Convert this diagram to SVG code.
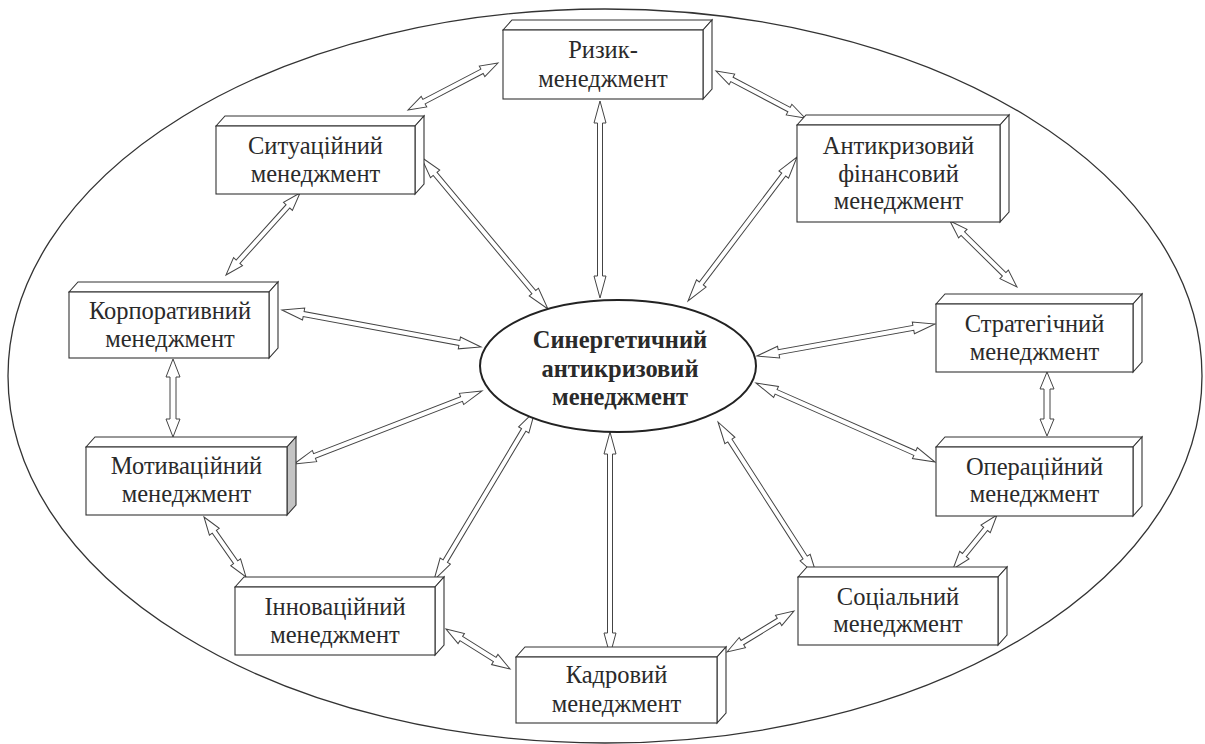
<svg xmlns="http://www.w3.org/2000/svg" width="1205" height="744" viewBox="0 0 1205 744">
<style>
.bg{fill:#fff}
.outer{fill:none;stroke:#333;stroke-width:1.3}
.arr polygon{fill:#fff;stroke:#444;stroke-width:1}
.box rect,.box polygon{fill:#fff;stroke:#333;stroke-width:1.1}
.box polygon.shade{fill:#c4c4c4}
.t{font-family:"Liberation Serif","Times New Roman",serif;font-size:24.5px;fill:#2a2a2a;text-anchor:middle}
.c{font-family:"Liberation Serif","Times New Roman",serif;font-size:24.5px;font-weight:bold;fill:#2a2a2a;text-anchor:middle}
.core{fill:#fff;stroke:#222;stroke-width:2}
</style>
<rect class="bg" x="0" y="0" width="1205" height="744"/>
<ellipse class="outer" cx="605" cy="376" rx="597" ry="367"/>
<g id="connectors" class="arr">
<!-- spokes -->
<polygon transform="translate(600,101) rotate(90)" points="0,0 22,-6 22,-2.5 175,-2.5 175,-6 197,0 175,6 175,2.5 22,2.5 22,6"/>
<polygon transform="translate(421,157) rotate(50.12)" points="0,0 22,-6 22,-2.5 176,-2.5 176,-6 198,0 176,6 176,2.5 22,2.5 22,6"/>
<polygon transform="translate(797,157) rotate(127.12)" points="0,0 22,-6 22,-2.5 158.6,-2.5 158.6,-6 180.6,0 158.6,6 158.6,2.5 22,2.5 22,6"/>
<polygon transform="translate(282,310) rotate(10.53)" points="0,0 22,-6 22,-2.5 180.4,-2.5 180.4,-6 202.4,0 180.4,6 180.4,2.5 22,2.5 22,6"/>
<polygon transform="translate(935,324) rotate(169.81)" points="0,0 22,-6 22,-2.5 158.9,-2.5 158.9,-6 180.9,0 158.9,6 158.9,2.5 22,2.5 22,6"/>
<polygon transform="translate(294,464) rotate(-21.22)" points="0,0 22,-6 22,-2.5 179.7,-2.5 179.7,-6 201.7,0 179.7,6 179.7,2.5 22,2.5 22,6"/>
<polygon transform="translate(935,462) rotate(-156.19)" points="0,0 22,-6 22,-2.5 173.7,-2.5 173.7,-6 195.7,0 173.7,6 173.7,2.5 22,2.5 22,6"/>
<polygon transform="translate(434,580) rotate(-59.14)" points="0,0 22,-6 22,-2.5 174.9,-2.5 174.9,-6 196.9,0 174.9,6 174.9,2.5 22,2.5 22,6"/>
<polygon transform="translate(610,432) rotate(90)" points="0,0 22,-6 22,-2.5 201,-2.5 201,-6 223,0 201,6 201,2.5 22,2.5 22,6"/>
<polygon transform="translate(718,422) rotate(57.26)" points="0,0 22,-6 22,-2.5 161.1,-2.5 161.1,-6 183.1,0 161.1,6 161.1,2.5 22,2.5 22,6"/>
<!-- ring -->
<polygon transform="translate(498,63) rotate(152.43)" points="0,0 18,-6 18,-2.5 83.5,-2.5 83.5,-6 101.5,0 83.5,6 83.5,2.5 18,2.5 18,6"/>
<polygon transform="translate(716,71) rotate(27.84)" points="0,0 18,-6 18,-2.5 82.6,-2.5 82.6,-6 100.6,0 82.6,6 82.6,2.5 18,2.5 18,6"/>
<polygon transform="translate(300,193) rotate(132.06)" points="0,0 18,-6 18,-2.5 92.5,-2.5 92.5,-6 110.5,0 92.5,6 92.5,2.5 18,2.5 18,6"/>
<polygon transform="translate(950,221) rotate(44.57)" points="0,0 18,-6 18,-2.5 76,-2.5 76,-6 94,0 76,6 76,2.5 18,2.5 18,6"/>
<polygon transform="translate(173,359) rotate(90)" points="0,0 18,-7 18,-3 60,-3 60,-7 78,0 60,7 60,3 18,3 18,7"/>
<polygon transform="translate(1047,372) rotate(90)" points="0,0 17,-7 17,-3 47,-3 47,-7 64,0 47,7 47,3 17,3 17,7"/>
<polygon transform="translate(204,517) rotate(55.01)" points="0,0 18,-6 18,-2.5 55.2,-2.5 55.2,-6 73.2,0 55.2,6 55.2,2.5 18,2.5 18,6"/>
<polygon transform="translate(997,515) rotate(129.17)" points="0,0 18,-6 18,-2.5 51.7,-2.5 51.7,-6 69.7,0 51.7,6 51.7,2.5 18,2.5 18,6"/>
<polygon transform="translate(446,629) rotate(32.01)" points="0,0 18,-6 18,-2.5 57.5,-2.5 57.5,-6 75.5,0 57.5,6 57.5,2.5 18,2.5 18,6"/>
<polygon transform="translate(727,652) rotate(-31.46)" points="0,0 18,-6 18,-2.5 60.5,-2.5 60.5,-6 78.5,0 60.5,6 60.5,2.5 18,2.5 18,6"/>
</g>
<g id="risk" class="box">
<polygon points="503,30 512,20 712,20 703,30"/>
<polygon points="703,30 712,20 712,89 703,99"/>
<rect x="503" y="30" width="200" height="69"/>
<text class="t" x="603" y="58">Ризик-</text>
<text class="t" x="603" y="87">менеджмент</text>
</g>
<g id="situational" class="box">
<polygon points="216,126 225,116 424,116 415,126"/>
<polygon points="415,126 424,116 424,184 415,194"/>
<rect x="216" y="126" width="199" height="68"/>
<text class="t" x="315.5" y="154">Ситуаційний</text>
<text class="t" x="315.5" y="182">менеджмент</text>
</g>
<g id="corporate" class="box">
<polygon points="69,292 78,282 278,282 269,292"/>
<polygon points="269,292 278,282 278,348 269,358"/>
<rect x="69" y="292" width="200" height="66"/>
<text class="t" x="170" y="319">Корпоративний</text>
<text class="t" x="170" y="347">менеджмент</text>
</g>
<g id="motivational" class="box">
<polygon points="86,447 95,437 296,437 287,447"/>
<polygon class="shade" points="287,447 296,437 296,505 287,515"/>
<rect x="86" y="447" width="201" height="68"/>
<text class="t" x="186.5" y="474">Мотиваційний</text>
<text class="t" x="186.5" y="502">менеджмент</text>
</g>
<g id="anticrisis-financial" class="box">
<polygon points="797,125 806,115 1009,115 1000,125"/>
<polygon points="1000,125 1009,115 1009,212 1000,222"/>
<rect x="797" y="125" width="203" height="97"/>
<text class="t" x="898.5" y="154">Антикризовий</text>
<text class="t" x="898.5" y="182">фінансовий</text>
<text class="t" x="898.5" y="209">менеджмент</text>
</g>
<g id="strategic" class="box">
<polygon points="936,304 945,294 1142,294 1133,304"/>
<polygon points="1133,304 1142,294 1142,362 1133,372"/>
<rect x="936" y="304" width="197" height="68"/>
<text class="t" x="1034.5" y="332">Стратегічний</text>
<text class="t" x="1034.5" y="360">менеджмент</text>
</g>
<g id="operational" class="box">
<polygon points="936,447 945,437 1142,437 1133,447"/>
<polygon points="1133,447 1142,437 1142,506 1133,516"/>
<rect x="936" y="447" width="197" height="69"/>
<text class="t" x="1034.5" y="475">Операційний</text>
<text class="t" x="1034.5" y="502">менеджмент</text>
</g>
<g id="social" class="box">
<polygon points="798,577 807,567 1007,567 998,577"/>
<polygon points="998,577 1007,567 1007,635 998,645"/>
<rect x="798" y="577" width="200" height="68"/>
<text class="t" x="898" y="605">Соціальний</text>
<text class="t" x="898" y="632">менеджмент</text>
</g>
<g id="personnel" class="box">
<polygon points="516,657 525,647 726,647 717,657"/>
<polygon points="717,657 726,647 726,713 717,723"/>
<rect x="516" y="657" width="201" height="66"/>
<text class="t" x="616.5" y="683">Кадровий</text>
<text class="t" x="616.5" y="712">менеджмент</text>
</g>
<g id="innovation" class="box">
<polygon points="235,587 244,577 444,577 435,587"/>
<polygon points="435,587 444,577 444,645 435,655"/>
<rect x="235" y="587" width="200" height="68"/>
<text class="t" x="335" y="615">Інноваційний</text>
<text class="t" x="335" y="643">менеджмент</text>
</g>
<g id="core">
<ellipse class="core" cx="618" cy="366" rx="138" ry="66"/>
<text class="c" x="620" y="348">Синергетичний</text>
<text class="c" x="620" y="377">антикризовий</text>
<text class="c" x="620" y="405">менеджмент</text>
</g>
</svg>
